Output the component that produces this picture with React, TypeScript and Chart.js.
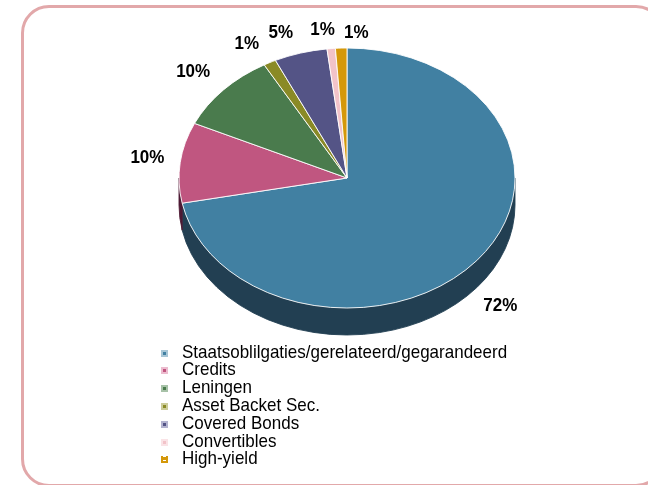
import React, { useEffect, useRef } from "react";
import { Chart, registerables } from "chart.js";

Chart.register(...registerables);

// ---- data ----
const categories = [
  "Staatsoblilgaties/gerelateerd/gegarandeerd",
  "Credits",
  "Leningen",
  "Asset Backet Sec.",
  "Covered Bonds",
  "Convertibles",
  "High-yield",
];
const shares = [71.9, 10.0, 9.9, 1.2, 5.1, 0.8, 1.1];

// ---- styles ----
const faceColors = ["#4180a2", "#c05680", "#4a7b4d", "#8a8a26", "#545486", "#f2c3c9", "#d4980a"];
const sideColors = ["#223f52", "#4e1a34", "#253d27", "#454513", "#2a2a43", "#917479", "#6a4c05"];
const legendTints = ["#a8c6d6", "#ecbccf", "#a7c2a8", "#cccc9a", "#b3b3cf", "#fae3e6", "#d4980a"];
const labelNudges: [number, number][] = [
  [-2, 6],
  [0, -2],
  [-6, -5],
  [-10, -2],
  [-12, -2],
  [-6, 0],
  [16, 4],
];

const SQUASH = 130 / 168;
const DEPTH = 27;
const TEXT_STRETCH = 1.08;
const LABEL_FONT = 'bold 17px "Liberation Sans", Arial, sans-serif';
const LEGEND_FONT = '17px "Liberation Sans", Arial, sans-serif';

function stretchedText(ctx: CanvasRenderingContext2D, text: string, x: number, y: number) {
  ctx.save();
  ctx.translate(x, y);
  ctx.scale(1, TEXT_STRETCH);
  ctx.fillText(text, 0, 0);
  ctx.restore();
}

const pie3d = {
  id: "pie3d",
  beforeDatasetsDraw(chart: any) {
    const meta = chart.getDatasetMeta(0);
    const first = meta.data[0];
    if (!first) return;
    const { x, y } = first.getProps(["x", "y"], true);
    const ctx = chart.ctx as CanvasRenderingContext2D;
    ctx.save();
    ctx.translate(x, y);
    ctx.scale(1, SQUASH);
    ctx.translate(-x, -y);
    const d = DEPTH / SQUASH;
    meta.data.forEach((el: any, i: number) => {
      const { startAngle, endAngle, outerRadius } = el.getProps(
        ["startAngle", "endAngle", "outerRadius"],
        true
      );
      for (let k = 0; k <= 1; k++) {
        const lo = k * 2 * Math.PI;
        const hi = lo + Math.PI;
        const s = Math.max(startAngle, lo);
        const e = Math.min(endAngle, hi);
        if (e > s) {
          ctx.beginPath();
          ctx.arc(x, y, outerRadius, s, e, false);
          ctx.arc(x, y + d, outerRadius, e, s, true);
          ctx.closePath();
          ctx.fillStyle = sideColors[i];
          ctx.fill();
          ctx.strokeStyle = sideColors[i];
          ctx.lineWidth = 1;
          ctx.stroke();
        }
      }
    });
  },
  afterDatasetsDraw(chart: any) {
    const ctx = chart.ctx as CanvasRenderingContext2D;
    ctx.restore();
    const meta = chart.getDatasetMeta(0);
    const total = shares.reduce((a, b) => a + b, 0);
    ctx.save();
    ctx.font = LABEL_FONT;
    ctx.fillStyle = "#000";
    ctx.textAlign = "center";
    ctx.textBaseline = "middle";
    meta.data.forEach((el: any, i: number) => {
      const { x, y, startAngle, endAngle, outerRadius } = el.getProps(
        ["x", "y", "startAngle", "endAngle", "outerRadius"],
        true
      );
      const mid = (startAngle + endAngle) / 2;
      const c = Math.cos(mid);
      const s = Math.sin(mid);
      const text = Math.round((shares[i] / total) * 100) + "%";
      const w = ctx.measureText(text).width;
      const h = 14;
      const ex = x + outerRadius * c;
      const ey = y + outerRadius * SQUASH * s + (s > 0 ? DEPTH : 0);
      const lx = ex + c * (w / 2 + 16) + labelNudges[i][0];
      const ly = ey + s * (h / 2 + 12) + labelNudges[i][1];
      stretchedText(ctx, text, lx, ly);
    });

    // legend
    ctx.font = LEGEND_FONT;
    ctx.textAlign = "left";
    ctx.textBaseline = "alphabetic";
    const textX = 182;
    const boxX = 161;
    const firstBaseline = 357.5;
    const step = 17.8;
    categories.forEach((name, i) => {
      const base = firstBaseline + i * step;
      const by = Math.round(base - 8);
      const last = i === categories.length - 1;
      ctx.fillStyle = legendTints[i];
      ctx.fillRect(boxX, by, 7, 7);
      if (last) {
        ctx.fillStyle = "#fff";
        ctx.fillRect(boxX + 2, by - 1, 3, 6);
        ctx.fillStyle = faceColors[i];
        ctx.fillRect(boxX + 2, by + 1, 3, 3);
      } else {
        ctx.fillStyle = faceColors[i];
        ctx.fillRect(boxX + 2, by + 2, 3, 3);
      }
      ctx.fillStyle = "#000";
      stretchedText(ctx, name, textX, base);
    });
    ctx.restore();
  },
};

export default function App() {
  const canvasRef = useRef<HTMLCanvasElement | null>(null);

  useEffect(() => {
    const canvas = canvasRef.current;
    if (!canvas) return;
    const chart = new Chart(canvas, {
      type: "pie",
      data: {
        labels: categories,
        datasets: [
          {
            data: shares,
            backgroundColor: faceColors,
            borderColor: "#ffffff",
            borderWidth: 1,
          },
        ],
      },
      options: {
        animation: false,
        responsive: false,
        devicePixelRatio: 1,
        events: [],
        layout: {
          padding: { left: 178.5, right: 132.5, top: 9.5, bottom: 138.5 },
        },
        plugins: {
          legend: { display: false },
          title: { display: false },
          tooltip: { enabled: false },
        },
      },
      plugins: [pie3d],
    });
    return () => chart.destroy();
  }, []);

  return (
    <div
      style={{
        position: "fixed",
        left: 0,
        top: 0,
        width: 648,
        height: 485,
        overflow: "hidden",
        background: "#fff",
      }}
    >
      <div
        style={{
          position: "absolute",
          left: 21,
          top: 5,
          width: 637,
          height: 476,
          border: "3px solid #e2a8aa",
          borderRadius: 28,
        }}
      />
      <canvas
        ref={canvasRef}
        width={648}
        height={485}
        style={{ position: "absolute", left: 0, top: 0, width: 648, height: 485 }}
      />
    </div>
  );
}
